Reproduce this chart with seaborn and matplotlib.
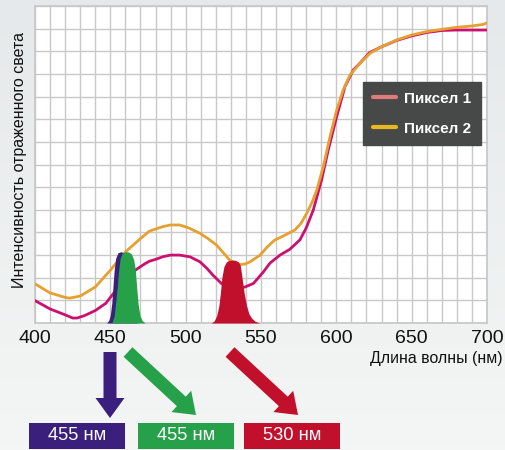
import numpy as np
import pandas as pd
import matplotlib.pyplot as plt
import seaborn as sns
from matplotlib.patches import FancyArrow, Rectangle
from matplotlib.lines import Line2D

# ─── Data ────────────────────────────────────────────────────────────────────
nm_p1 = [400, 410, 420, 425, 428, 433, 440, 447, 452, 458, 463, 468, 473, 476,
         480, 485, 490, 496, 503, 509.5, 514, 518.3, 524, 530, 535, 539.4, 545,
         551.5, 556, 562.6, 569, 575.8, 580, 584.7, 590.2, 594.6, 600.2, 605.7,
         611.2, 616, 622, 630, 640, 650, 660, 670, 680, 690, 700]
val_p1 = [0.99, 0.62, 0.36, 0.22, 0.22, 0.33, 0.55, 0.87, 1.30, 1.80, 2.15, 2.40,
          2.62, 2.73, 2.81, 2.93, 3.00, 3.00, 2.92, 2.70, 2.42, 2.10, 1.73, 1.60,
          1.55, 1.59, 1.75, 2.25, 2.65, 3.00, 3.25, 3.67, 4.20, 4.99, 6.32, 7.64,
          9.11, 10.44, 11.17, 11.50, 11.94, 12.20, 12.48, 12.68, 12.83, 12.92,
          12.94, 12.94, 12.94]

nm_p2 = [400, 410, 420, 423, 430, 440, 450, 460, 470, 476, 480, 485, 490, 496,
         502, 509.5, 515, 520.5, 525, 529.4, 533, 536, 539, 542.7, 546, 549.3,
         554, 559, 565, 572.5, 576.5, 580.3, 584, 587, 591.3, 595.8, 600.2, 604.6,
         609, 615.7, 622.3, 630, 640, 650, 660, 670, 680, 690, 697.6, 700]
val_p2 = [1.73, 1.33, 1.13, 1.10, 1.19, 1.59, 2.33, 3.14, 3.73, 4.06, 4.15, 4.26,
          4.33, 4.33, 4.20, 3.96, 3.72, 3.44, 3.10, 2.77, 2.63, 2.58, 2.60, 2.70,
          2.85, 2.99, 3.35, 3.66, 3.85, 4.11, 4.40, 4.84, 5.35, 5.87, 6.90, 8.23,
          9.40, 10.30, 10.95, 11.47, 11.91, 12.20, 12.50, 12.72, 12.87, 12.97,
          13.06, 13.12, 13.19, 13.26]

# filter pass bands
nm_blue = [447.5, 449, 450, 451, 451.7, 452.5, 453.5, 455, 457, 459, 461, 462,
           463, 464, 465, 466.5, 468]
val_blue = [0.0, 0.12, 0.35, 0.9, 1.57, 2.3, 2.85, 3.1, 3.15, 3.1, 2.8, 2.3,
            1.5, 0.8, 0.3, 0.1, 0.0]
nm_green = [451, 452.5, 453.5, 454.6, 455.5, 456.5, 458, 460, 462, 464, 465.5,
            466.5, 467.5, 468.5, 469.7, 471, 473]
val_green = [0.0, 0.3, 0.9, 1.57, 2.3, 2.85, 3.1, 3.15, 3.14, 3.05, 2.8, 2.4,
             1.57, 0.8, 0.33, 0.12, 0.0]
nm_red = [517, 519, 520.6, 522, 523, 524, 525.4, 527, 528.5, 531, 533, 535,
          536.2, 537, 537.8, 539, 540.4, 542, 544, 546, 549]
val_red = [0.0, 0.1, 0.33, 0.75, 1.3, 2.0, 2.5, 2.7, 2.76, 2.78, 2.77, 2.7,
           2.55, 2.2, 1.8, 1.25, 0.77, 0.4, 0.2, 0.08, 0.0]

series_labels = ['Пиксел 1', 'Пиксел 2']
x_ticks = [400, 450, 500, 550, 600, 650, 700]
box_labels = ['455 нм', '455 нм', '530 нм']

c_p1 = '#cc1070'
c_p2 = '#e6a030'
c_blue = '#3a1f7c'
c_green = '#27a04a'
c_red = '#c0102c'

df = pd.concat([
    pd.DataFrame({'nm': nm_p1, 'val': val_p1, 'series': series_labels[0]}),
    pd.DataFrame({'nm': nm_p2, 'val': val_p2, 'series': series_labels[1]}),
])

# ─── Figure ─────────────────────────────────────────────────────────────────
sns.set_theme(style='white')
plt.rcParams['font.family'] = ['Liberation Sans', 'DejaVu Sans']

fig = plt.figure(figsize=(5.05, 4.5), dpi=100, facecolor='#eef1f1')

# soft background gradient
bg = fig.add_axes([0, 0, 1, 1], zorder=-10)
grad = np.linspace(0, 1, 100).reshape(-1, 1)
bg.imshow(grad, aspect='auto', cmap=sns.blend_palette(['#e6e9eb', '#f4f6f5'], as_cmap=True),
          extent=[0, 1, 0, 1], origin='upper')
bg.axis('off')

ax = fig.add_axes([0.0693, 0.2822, 0.8951, 0.7044])
ax.set_facecolor('white')

ax.set_xlim(400, 700)
ax.set_ylim(0, 14)
ax.set_xticks(x_ticks)
ax.set_xticks(np.arange(400, 701, 10), minor=True)
ax.set_yticks(np.arange(0, 15, 1))
ax.grid(True, which='both', color='#c8c8c8', lw=1.0)
ax.set_axisbelow(True)
ax.set_yticklabels([])
ax.tick_params(axis='x', which='both', length=0, labelsize=14, pad=5, labelcolor='#111111')
ax.tick_params(axis='y', length=0)
for s in ax.spines.values():
    s.set_color('#c8c8c8')

sns.lineplot(data=df, x='nm', y='val', hue='series', palette=[c_p1, c_p2],
             lw=2, ax=ax, legend=False, zorder=3)

# filters sit on top of the curves
ax.fill_between(nm_blue, val_blue, color=c_blue, lw=0, zorder=4)
ax.fill_between(nm_green, val_green, color=c_green, lw=0, zorder=5)
ax.fill_between(nm_red, val_red, color=c_red, lw=0, zorder=4)

ax.set_xlabel('')
ax.set_ylabel('Интенсивность отраженного света', fontsize=11.5, color='#111111')
ax.yaxis.set_label_coords(-0.018, 0.514)
fig.text(0.996, 0.204, 'Длина волны (нм)', ha='right', va='center', fontsize=11.4,
         color='#111111')

# legend box
handles = [Line2D([], [], color='#e07a7a', lw=3), Line2D([], [], color='#e8b820', lw=3)]
leg = ax.legend(handles, series_labels, loc='upper left', bbox_to_anchor=(0.726, 0.760),
                borderaxespad=0, frameon=True, fancybox=False, facecolor='#474848',
                edgecolor='#474848', framealpha=1, handlelength=1.55, handletextpad=0.5,
                borderpad=0.62, labelspacing=1.05, prop={'weight': 'bold', 'size': 11})
for t in leg.get_texts():
    t.set_color('white')
leg.set_zorder(10)

# arrows (inches from bottom-left so they stay isotropic)
def px(x, y):
    return x / 100, (450 - y) / 100

arrows = [((110, 352), (110, 418), c_blue),
          ((128, 352), (196, 415), c_green),
          ((230, 352), (298, 415), c_red)]
for (x0, y0), (x1, y1), col in arrows:
    a0 = px(x0, y0)
    a1 = px(x1, y1)
    fig.patches.append(FancyArrow(a0[0], a0[1], a1[0] - a0[0], a1[1] - a0[1],
                                  width=0.13, head_width=0.29, head_length=0.20,
                                  length_includes_head=True, color=col, lw=0,
                                  transform=fig.dpi_scale_trans, figure=fig))

boxes = [(29, c_blue), (138, c_green), (244, c_red)]
for (bx, col), lab in zip(boxes, box_labels):
    x0, y0 = px(bx, 449)
    fig.patches.append(Rectangle((x0, y0), 0.96, 0.26, color=col, lw=0,
                                 transform=fig.dpi_scale_trans, figure=fig))
    fig.text(x0 + 0.48, y0 + 0.13, lab, ha='center', va='center', color='white',
             fontsize=13.2, transform=fig.dpi_scale_trans)

plt.savefig('out.png', dpi=100, facecolor=fig.get_facecolor())
